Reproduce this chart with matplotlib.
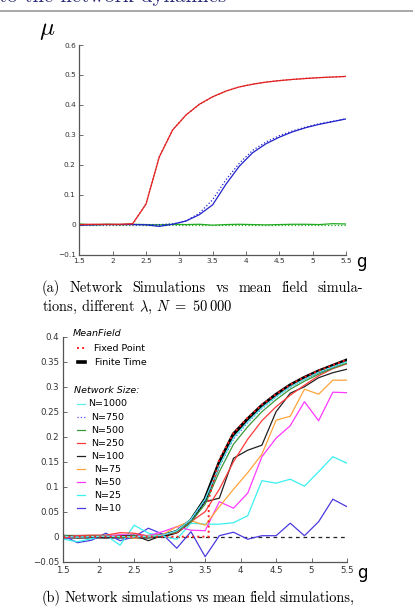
"""
Page crop: network simulations vs mean field, mu against g (two panels with captions).
"""
import matplotlib
matplotlib.use("Agg")
import matplotlib.pyplot as plt

plt.rcParams["mathtext.fontset"] = "cm"
plt.rcParams["axes.unicode_minus"] = True

W, H = 414, 606

# ---- data: top panel (N = 50 000, three lambdas) ----
g = [1.5, 1.7, 1.9, 2.1, 2.3, 2.5, 2.7, 2.9, 3.1, 3.3, 3.5,
     3.7, 3.9, 4.1, 4.3, 4.5, 4.7, 4.9, 5.1, 5.3, 5.5]

red_net = [0, 0.001, 0.001, 0.001, 0.003, 0.068, 0.226, 0.316, 0.366, 0.402, 0.427,
           0.446, 0.460, 0.469, 0.476, 0.481, 0.485, 0.488, 0.491, 0.493, 0.495]
red_mf = [0, 0, 0, 0, 0.001, 0.070, 0.228, 0.317, 0.366, 0.401, 0.427,
          0.446, 0.460, 0.469, 0.476, 0.481, 0.485, 0.489, 0.491, 0.493, 0.495]
blue_net = [-0.002, -0.001, 0, 0, 0, -0.001, -0.006, 0.001, 0.012, 0.033, 0.066,
            0.135, 0.195, 0.240, 0.270, 0.292, 0.310, 0.324, 0.335, 0.344, 0.353]
blue_mf = [0, 0, 0, 0, 0, 0, 0, 0.002, 0.012, 0.038, 0.083,
           0.150, 0.205, 0.248, 0.276, 0.297, 0.313, 0.326, 0.337, 0.345, 0.353]
green_net = [0.002, -0.001, 0.001, 0, 0.001, 0, -0.001, 0.001, 0, 0.001, -0.002,
             0, 0.001, 0, -0.001, 0, 0.001, 0.001, 0, 0.003, 0.002]
green_mf = [0, 0, 0, 0, 0, 0, 0, 0, 0, 0, 0,
            0, 0, 0, 0, 0, 0, 0, 0, 0, 0]

# ---- data: bottom panel (network sizes) ----
finite_time = [0, 0, 0, 0, 0, 0, 0, 0.002, 0.010, 0.032, 0.075,
               0.148, 0.205, 0.235, 0.262, 0.284, 0.303, 0.318, 0.331, 0.342, 0.353]
fp_g = [1.5, 3.55, 3.55, 3.7, 3.9, 4.1, 4.3, 4.5, 4.7, 4.9, 5.1, 5.3, 5.5]
fixed_point = [0, 0, 0.075, 0.155, 0.207, 0.238, 0.264, 0.285, 0.304, 0.319, 0.332, 0.343, 0.354]

sizes = ["N=1000", "N=750", "N=500", "N=250", "N=100", "N=75", "N=50", "N=25", "N=10"]
size_colors = ["#5ff0f0", "#4a4aff", "#3a9a3a", "#ff3a3a", "#202020",
               "#ffa43a", "#ff3aff", "#3af0f0", "#4a3ae0"]
size_styles = ["-", ":", "-", "-", "-", "-", "-", "-", "-"]
size_values = [
    [0.001, -0.001, 0, 0.001, 0, 0, 0.001, 0.003, 0.012, 0.035, 0.075,
     0.142, 0.198, 0.230, 0.258, 0.280, 0.300, 0.315, 0.329, 0.340, 0.350],
    [0, 0.001, -0.001, 0, 0.001, 0, -0.001, 0.002, 0.011, 0.033, 0.072,
     0.140, 0.195, 0.228, 0.256, 0.279, 0.299, 0.315, 0.328, 0.339, 0.350],
    [0.002, 0, 0.001, 0.001, -0.001, 0.002, -0.002, 0.003, 0.010, 0.030, 0.065,
     0.130, 0.185, 0.220, 0.250, 0.274, 0.295, 0.311, 0.325, 0.337, 0.347],
    [-0.002, 0.002, 0.003, 0.003, 0.008, 0.007, 0.001, 0.004, 0.008, 0.030, 0.050,
     0.095, 0.150, 0.195, 0.232, 0.260, 0.283, 0.303, 0.322, 0.336, 0.346],
    [0.003, -0.002, 0, -0.002, 0.001, 0.003, -0.008, 0.003, 0.012, 0.035, 0.070,
     0.077, 0.157, 0.173, 0.183, 0.250, 0.287, 0.300, 0.318, 0.328, 0.335],
    [0, 0.002, 0.001, -0.001, 0.002, -0.003, 0.001, 0.004, 0.020, 0.032, 0.023,
     0.060, 0.095, 0.128, 0.165, 0.233, 0.241, 0.295, 0.285, 0.313, 0.313],
    [-0.002, 0, 0.002, 0.001, 0.004, 0.003, 0.002, 0.010, 0.020, 0.013, 0.012,
     0.070, 0.057, 0.087, 0.160, 0.197, 0.222, 0.270, 0.232, 0.289, 0.288],
    [-0.005, -0.010, -0.004, 0.003, -0.017, 0.023, 0.007, 0.001, -0.005, 0.027, 0.025,
     0.025, 0.028, 0.042, 0.112, 0.107, 0.115, 0.101, 0.130, 0.160, 0.147],
    [0.002, -0.012, -0.007, 0.007, -0.008, 0, 0.017, 0.005, -0.023, 0.010, -0.040,
     0.002, 0.009, -0.005, 0.002, 0.002, 0.027, 0.002, 0.030, 0.075, 0.060],
]

xticks = [1.5, 2, 2.5, 3, 3.5, 4, 4.5, 5, 5.5]
xticklabels = ["1.5", "2", "2.5", "3", "3.5", "4", "4.5", "5", "5.5"]
top_yticks = [-0.1, 0, 0.1, 0.2, 0.3, 0.4, 0.5, 0.6]
bot_yticks = [-0.05, 0, 0.05, 0.1, 0.15, 0.2, 0.25, 0.3, 0.35, 0.4]


def px(x, y):
    """pixel position (from top-left) -> figure fraction"""
    return x / W, 1 - y / H


def style_axes(ax, size, pad):
    for s in ["top", "right"]:
        ax.spines[s].set_visible(False)
    for s in ["left", "bottom"]:
        ax.spines[s].set_color("#555555")
        ax.spines[s].set_linewidth(0.9)
    ax.tick_params(direction="in", length=3, width=0.6, colors="#555555",
                   labelcolor="#333333", labelsize=size, pad=pad)
    ax.set_xticks(xticks)
    ax.set_xticklabels(xticklabels)
    ax.set_xlim(1.5, 5.5)


def justify(fig, words, x0, x1, y, size):
    r = fig.canvas.get_renderer()
    texts = [fig.text(0, 0, w, fontsize=size, family="cmr10", va="baseline") for w in words]
    widths = [t.get_window_extent(r).width for t in texts]
    gap = (x1 - x0 - sum(widths)) / (len(words) - 1)
    x = x0
    for t, w in zip(texts, widths):
        t.set_position(px(x, y))
        x += w + gap


fig = plt.figure(figsize=(W / 100, H / 100), dpi=100)

# page header (cut off by the page crop) and rule
fig.text(*px(-1, 2.5), "to the network dynamics", fontsize=15, family="cmr10",
         color="#2a2a78", va="baseline")
fig.add_artist(plt.Line2D([0, 1], [1 - 10.5 / H] * 2, color="#9a9a9a", lw=1.2))

# ---- top panel ----
ax1 = fig.add_axes([79.3 / W, 1 - 254.5 / H, 266.7 / W, 209.5 / H])
ax1.plot(g, green_net, color="#22aa22", lw=0.9)
ax1.plot(g, green_mf, color="#22aa22", lw=0.9, ls=":")
ax1.plot(g, blue_net, color="#2222cc", lw=0.9)
ax1.plot(g, blue_mf, color="#2222cc", lw=0.9, ls=":")
ax1.plot(g, red_net, color="#e02222", lw=0.9)
ax1.plot(g, red_mf, color="#e02222", lw=0.9, ls=":")
ax1.set_ylim(-0.1, 0.6)
ax1.set_yticks(top_yticks)
ax1.set_yticklabels(["\u22120.1", "0", "0.1", "0.2", "0.3", "0.4", "0.5", "0.6"])
style_axes(ax1, 5.3, 2.5)

fig.text(*px(47, 30), r"$\mu$", fontsize=18, ha="center", va="center")
fig.text(*px(361, 262), "g", fontsize=12, ha="center", va="center")

cap_size = 10.4
justify(fig, ["(a)", "Network", "Simulations", "vs", "mean", "field", "simula-"],
        42, 363, 292, cap_size)
fig.text(*px(42, 311), r"tions, different $\lambda$, $N\ =\ 50\,000$", fontsize=cap_size,
         family="cmr10", va="baseline")

# ---- bottom panel ----
ax2 = fig.add_axes([63.3 / W, 1 - 561.7 / H, 283.7 / W, 225 / H])
ax2.axhline(0, color="#222222", lw=0.9, ls=(0, (3, 3)))
ax2.plot(g, finite_time, color="black", lw=2.6)
for vals, c, ls in zip(size_values[::-1], size_colors[::-1], size_styles[::-1]):
    ax2.plot(g, vals, color=c, lw=0.9, ls=ls)
ax2.plot(fp_g, fixed_point, color="#ff2020", lw=1.4, ls=":")
ax2.set_ylim(-0.05, 0.4)
ax2.set_yticks(bot_yticks)
ax2.set_yticklabels(["\u22120.05", "0", "0.05", "0.1", "0.15", "0.2", "0.25",
                     "0.3", "0.35", "0.4"])
style_axes(ax2, 6.2, 3)

# hand-made legend, as in the figure
leg_size = 6.8
fig.text(*px(73, 334), "MeanField", fontsize=leg_size, style="italic", va="center")
fig.add_artist(plt.Line2D([77 / W, 86 / W], [1 - 348.3 / H] * 2, color="#ff2020", lw=1.4, ls=":"))
fig.text(*px(94, 348.3), "Fixed Point", fontsize=leg_size, va="center")
fig.add_artist(plt.Line2D([78 / W, 85 / W], [1 - 362.3 / H] * 2, color="black", lw=2.6))
fig.text(*px(95, 362.3), "Finite Time", fontsize=leg_size, va="center")
fig.text(*px(74, 390.7), "Network Size:", fontsize=leg_size, style="italic", va="center")
for i, (lab, c, ls) in enumerate(zip(sizes, size_colors, size_styles)):
    yy = 404 + i * 13.05
    fig.add_artist(plt.Line2D([77 / W, 85 / W], [1 - yy / H] * 2, color=c, lw=0.9, ls=ls))
    fig.text(*px(107.5, yy), lab, fontsize=leg_size, ha="center", va="center")

fig.text(*px(362, 573), "g", fontsize=12, ha="center", va="center")

justify(fig, ["(b)", "Network", "simulations", "vs", "mean", "field", "simulations,"],
        42, 355, 601.5, cap_size)

fig.savefig("out.png", dpi=100)
